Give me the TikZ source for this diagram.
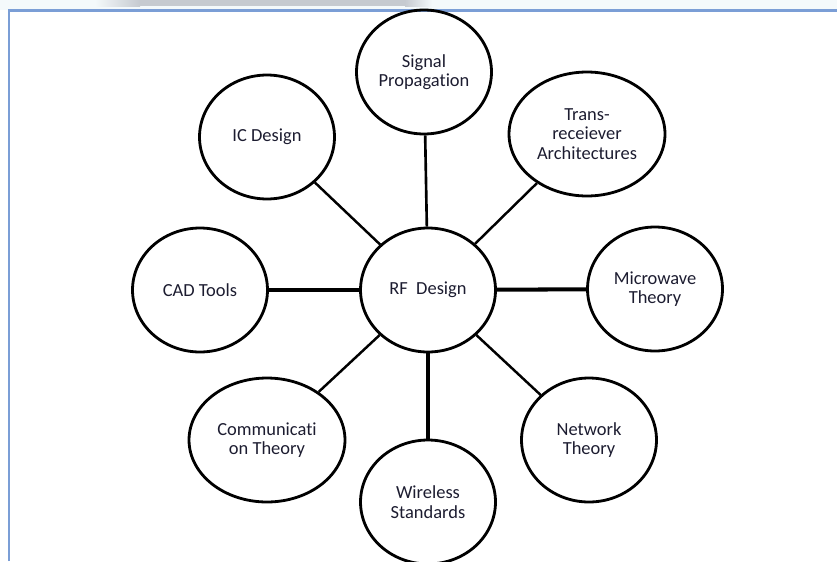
\documentclass[tikz,border=0pt]{standalone}
\usepackage{fontspec}
\setmainfont{Carlito}[Ligatures={NoCommon,NoContextual}]
\usetikzlibrary{shapes.geometric}
\definecolor{mFrame}{HTML}{7B9ED6}
\definecolor{mInk}{HTML}{1C1C30}
\definecolor{mTop}{HTML}{F4F9FB}
\definecolor{mBar}{HTML}{C6CAD0}

\begin{document}
\begin{tikzpicture}[x=0.02cm, y=-0.02cm,
      bub/.style={ellipse, draw, line width=1.6pt, minimum width=2.7cm, minimum height=2.48cm,
        inner sep=0pt, align=center, text=mInk, font=\fontsize{10.5}{11}\selectfont},
      wide/.style={bub, minimum width=3.12cm},
      spoke/.style={line width=1.4pt},
      heavy/.style={line width=2.3pt}]
    \clip (0,0) rectangle (837,561);
    % window strip and frame
    \fill[mTop] (0,0) rectangle (837,10);
    \fill[mBar] (140,0) rectangle (405,6);
    \shade[left color=mTop, right color=mBar] (95,0) rectangle (140,6);
    \shade[left color=mBar, right color=mTop] (405,0) rectangle (432,6);
    \draw[mFrame, line width=1.2pt] (9,561) -- (9,10.5) -- (837,10.5);
    % hub and topics
    \node[bub] (rf)  at (428,290) {RF~~Design};
    \node[bub] (sig) at (424,72)  {Signal\\Propagation};
    \node[bub] (ic)  at (267,137) {IC Design};
    \node[wide] (tra) at (587,134) {Trans-\\receiever\\Architectures};
    \node[bub] (mic) at (655,289) {Microwave\\Theory};
    \node[bub] (cad) at (200,290) {CAD Tools};
    \node[wide] (com) at (267,440) {Communicati\\on Theory};
    \node[bub] (wir) at (428,502) {Wireless\\Standards};
    \node[bub] (net) at (589,440) {Network\\Theory};
    % spokes
    \foreach \n in {ic, tra, com, net} \draw[spoke] (rf) -- (\n);
    \draw[spoke, line width=1.5pt] (rf) -- (sig);
    \foreach \n in {cad, mic} \draw[heavy] (rf) -- (\n);
    \draw[heavy, line width=2.5pt] (rf) -- (wir);
  \end{tikzpicture}
\end{document}
